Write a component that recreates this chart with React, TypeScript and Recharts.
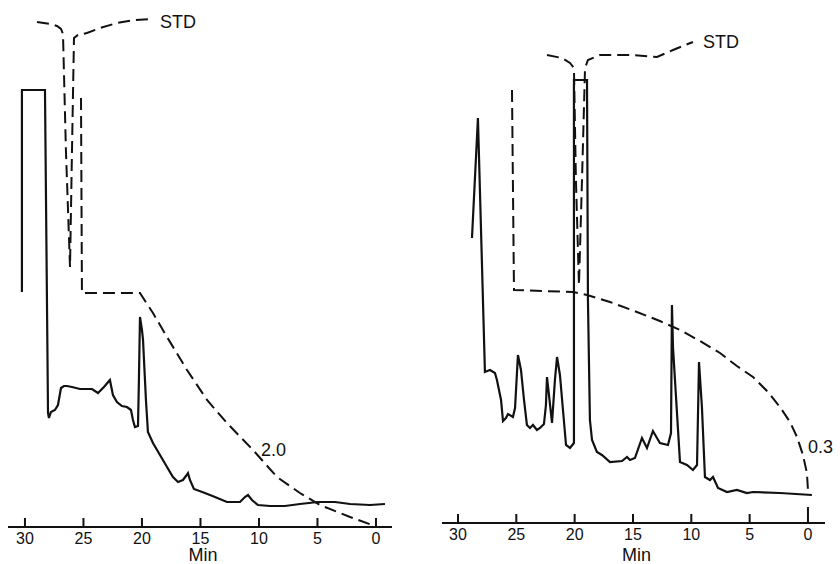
import React from 'react';
import { LineChart, Line, XAxis, YAxis, ReferenceDot, Label } from 'recharts';

// [minutes, detector response]
const leftSample: [number, number][] = [
  [30.26, 47.0], [30.26, 87.4], [28.29, 87.4], [28.03, 22.8], [27.95, 21.8], [27.78, 23.0],
  [27.44, 23.4], [27.18, 24.4], [26.92, 27.8], [26.67, 28.2], [26.41, 28.2], [25.98, 28.0],
  [25.30, 27.6], [24.62, 27.6], [24.27, 27.6], [23.76, 26.8], [23.25, 28.0], [22.74, 29.4],
  [22.48, 26.4], [22.14, 25.0], [21.71, 24.2], [21.28, 24.0], [20.94, 23.4], [20.77, 21.4],
  [20.60, 20.0], [20.34, 20.2], [20.26, 29.4], [20.17, 42.0], [20.0, 39.4], [19.91, 37.4],
  [19.66, 25.4], [19.49, 19.0], [19.06, 16.8], [18.46, 14.4], [17.86, 12.0], [17.35, 10.0],
  [16.92, 9.0], [16.50, 9.4], [16.24, 10.2], [16.07, 10.8], [15.90, 9.4], [15.56, 7.6],
  [14.62, 6.8], [13.76, 6.0], [12.74, 5.0], [11.62, 5.0], [11.20, 6.0], [10.94, 6.4],
  [10.60, 5.4], [10.09, 4.4], [9.06, 4.2], [7.78, 4.2], [6.50, 4.6], [4.96, 5.0],
  [3.50, 5.0], [2.22, 4.6], [0.51, 4.4], [-0.77, 4.6],
];

const leftStd: [number, number][] = [
  [28.97, 101.0], [27.86, 100.6], [27.26, 100.2], [26.92, 99.6], [26.75, 98.6], [26.50, 75.4],
  [26.15, 52.0], [25.98, 75.4], [25.81, 97.8], [25.47, 98.4], [24.70, 98.8], [23.59, 99.8],
  [22.14, 100.8], [20.60, 101.4], [19.32, 101.6],
];

const leftGradient: [number, number][] = [
  [25.21, 85.8], [25.13, 46.8], [20.17, 46.8], [19.06, 42.8], [17.86, 38.0], [16.15, 31.4],
  [14.44, 25.4], [12.74, 20.8], [10.51, 15.4], [8.46, 10.0], [6.50, 6.8], [4.79, 4.4],
  [2.22, 2.0], [0.34, 0.4],
];

const rightSample: [number, number][] = [
  [28.80, 57.0], [28.29, 81.0], [27.69, 30.2], [27.26, 30.6], [26.83, 30.0], [26.66, 28.6],
  [26.31, 24.6], [26.14, 20.4], [25.89, 21.0], [25.71, 21.8], [25.29, 21.2], [25.11, 23.0],
  [24.86, 33.6], [24.60, 30.6], [24.34, 24.6], [24.09, 19.6], [23.83, 19.0], [23.57, 19.6],
  [23.23, 18.6], [22.97, 19.0], [22.63, 19.8], [22.46, 23.6], [22.37, 29.2], [22.20, 25.6],
  [21.94, 20.0], [21.69, 28.6], [21.51, 33.2], [21.26, 29.6], [21.00, 22.6], [20.74, 15.6],
  [20.40, 15.0], [20.06, 16.0], [20.06, 88.6], [18.94, 88.6], [18.86, 44.6], [18.69, 20.6],
  [18.51, 16.6], [18.09, 14.2], [17.66, 13.6], [16.97, 12.2], [15.94, 12.4], [15.51, 13.2],
  [15.26, 12.6], [14.83, 13.0], [14.23, 17.0], [13.80, 15.0], [13.29, 18.4], [12.69, 16.0],
  [12.00, 15.6], [11.74, 18.0], [11.66, 43.6], [11.57, 35.2], [11.40, 28.6], [10.97, 12.2],
  [10.37, 11.6], [9.86, 10.6], [9.51, 11.6], [9.34, 32.2], [9.09, 23.2], [8.83, 9.2],
  [8.40, 8.6], [8.14, 9.2], [7.71, 7.0], [6.94, 6.2], [6.09, 6.6], [5.23, 6.0],
  [4.71, 6.2], [2.40, 6.0], [-0.34, 5.6],
];

const rightStd: [number, number][] = [
  [22.37, 93.6], [21.09, 93.0], [20.40, 92.0], [20.06, 91.0], [19.89, 68.6], [19.63, 47.6],
  [19.37, 68.6], [19.11, 91.0], [18.86, 92.6], [17.83, 93.6], [15.00, 93.6], [12.94, 93.2],
  [11.57, 94.6], [9.86, 96.2],
];

const rightGradient: [number, number][] = [
  [25.37, 86.6], [25.20, 46.6], [20.14, 46.2], [18.94, 45.6], [16.97, 44.2], [14.66, 42.2],
  [12.69, 40.4], [10.97, 38.6], [9.26, 36.4], [7.54, 34.0], [6.09, 31.4], [4.71, 29.2],
  [3.43, 26.2], [2.40, 23.2], [1.54, 20.2], [0.94, 17.2], [0.43, 13.6], [0.09, 10.0],
  [0.0, 6.6],
];

const minTicks = [30, 25, 20, 15, 10, 5, 0];

const leftNotes = [
  { m: 18.89, v: 101.0, text: 'STD' },
  { m: 10.26, v: 15.4, text: '2.0' },
];
const rightNotes = [
  { m: 9.43, v: 96.2, text: 'STD' },
  { m: 0.43, v: 15.2, text: '0.3' },
];

const INK = '#111';
const FONT = '"Liberation Sans", Arial, sans-serif';

const toRows = (pts: [number, number][]) => pts.map(([m, v]) => ({ m, v }));

const MinTick = (props: any) => {
  const { x, y, payload, zeroTall } = props;
  const h = zeroTall && payload.value === 0 ? 16 : 9;
  return (
    <g>
      <line x1={x} x2={x} y1={y} y2={y - h} stroke={INK} strokeWidth={2} />
      <text x={x} y={y + 16.5} textAnchor="middle" fontSize={16} fill={INK} fontFamily={FONT}>
        {payload.value}
      </text>
    </g>
  );
};

const MinLabel = (props: any) => {
  const vb = props.viewBox || {};
  return (
    <text x={vb.x + vb.width / 2 + 3} y={vb.y + vb.height - 3} textAnchor="middle"
      fontSize={18} fill={INK} fontFamily={FONT}>
      Min
    </text>
  );
};

interface PanelProps {
  sample: [number, number][];
  std: [number, number][];
  gradient: [number, number][];
  notes: { m: number; v: number; text: string }[];
  domain: [number, number];
  yMax: number;
  axisHeight: number;
  margin: { top: number; right: number; bottom: number; left: number };
  zeroTall?: boolean;
}

function Panel({ sample, std, gradient, notes, domain, yMax, axisHeight, margin, zeroTall }: PanelProps) {
  return (
    <LineChart width={420} height={564} margin={margin}>
      <XAxis
        type="number"
        dataKey="m"
        domain={domain}
        allowDataOverflow
        reversed
        ticks={minTicks}
        interval={0}
        height={axisHeight}
        tickSize={0}
        tickMargin={0}
        tickLine={false}
        axisLine={{ stroke: INK, strokeWidth: 2 }}
        tick={<MinTick zeroTall={zeroTall} />}
      >
        <Label content={<MinLabel />} />
      </XAxis>
      <YAxis type="number" dataKey="v" domain={[0, yMax]} allowDataOverflow hide />
      <Line data={toRows(gradient)} dataKey="v" type="linear" stroke={INK} strokeWidth={2}
        strokeDasharray="12 6" dot={false} isAnimationActive={false} />
      <Line data={toRows(std)} dataKey="v" type="linear" stroke={INK} strokeWidth={2}
        strokeDasharray="12 6" dot={false} isAnimationActive={false} />
      <Line data={toRows(sample)} dataKey="v" type="linear" stroke={INK} strokeWidth={2.2}
        dot={false} isAnimationActive={false} />
      {notes.map((n) => (
        <ReferenceDot key={n.text} x={n.m} y={n.v} r={0.1} fill="none" stroke="none" ifOverflow="visible"
          label={{ value: n.text, position: 'right', offset: 5, fontSize: 18, fill: INK, fontFamily: FONT }} />
      ))}
    </LineChart>
  );
}

export default function App() {
  return (
    <div style={{ position: 'absolute', top: 0, left: 0, width: 840, height: 564, background: '#fff', fontFamily: FONT }}>
      <div style={{ position: 'absolute', left: 0, top: 0 }}>
        <Panel
          sample={leftSample}
          std={leftStd}
          gradient={leftGradient}
          notes={leftNotes}
          domain={[-1.37, 31.45]}
          yMax={105.4}
          axisHeight={37}
          margin={{ top: 0, right: 28, bottom: 0, left: 8 }}
        />
      </div>
      <div style={{ position: 'absolute', left: 420, top: 0 }}>
        <Panel
          sample={rightSample}
          std={rightStd}
          gradient={rightGradient}
          notes={rightNotes}
          domain={[-1.46, 31.37]}
          yMax={104.6}
          axisHeight={41}
          margin={{ top: 0, right: 15, bottom: 0, left: 22 }}
          zeroTall
        />
      </div>
    </div>
  );
}
